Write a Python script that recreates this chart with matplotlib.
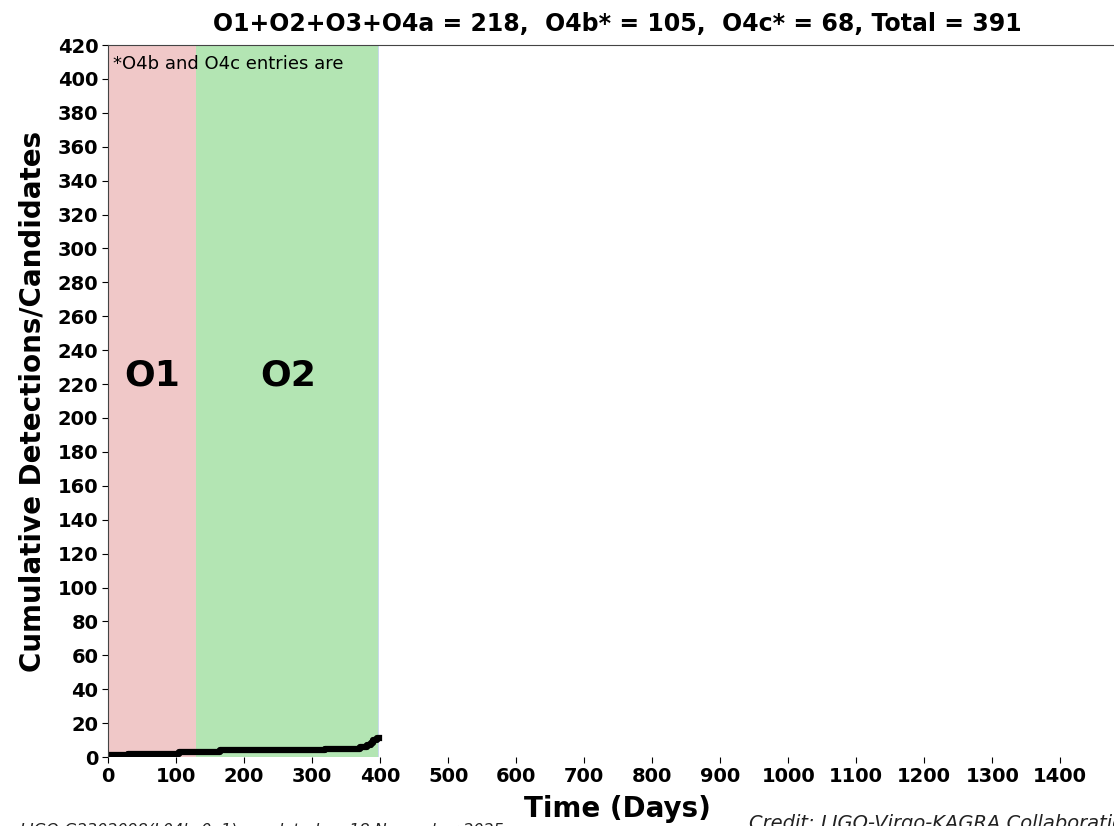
import numpy as np
import matplotlib
matplotlib.use("Agg")
import matplotlib.pyplot as plt

# Observing runs (days since start of run sequence)
run_names = ["O1", "O2"]
run_starts = [0, 129]
run_ends = [129, 397]
run_colors = ["#f0c8c8", "#b3e5b3"]
o3_start = 397
o3_shown_end = 399

# Detection times (days) and cumulative counts
event_days = [0, 2, 30, 105, 164, 319, 370, 381, 386, 389, 390, 395, 399]
event_counts = [0, 1, 2, 3, 4, 5, 6, 7, 8, 9, 10, 11, 11]

title = "O1+O2+O3+O4a = 218,  O4b* = 105,  O4c* = 68, Total = 391"
xticks = [0, 100, 200, 300, 400, 500, 600, 700, 800, 900, 1000, 1100, 1200, 1300, 1400]
yticks = list(range(0, 421, 20))

fig = plt.figure(figsize=(11.14, 8.26), dpi=100)
ax = fig.add_axes([0.097, 0.0835, 0.914, 0.862])

for name, s, e, c in zip(run_names, run_starts, run_ends, run_colors):
    ax.axvspan(s, e, color=c, lw=0)
ax.axvspan(o3_start, o3_shown_end, color="#c8d8ec", lw=0)

ax.text(65, 225, "O1", fontsize=26, fontweight="bold", ha="center", va="center")
ax.text(265, 225, "O2", fontsize=26, fontweight="bold", ha="center", va="center")
ax.text(7, 414, "*O4b and O4c entries are", fontsize=13, ha="left", va="top")

ax.step(event_days, event_counts, where="post", color="black", lw=4.5)

ax.set_xlim(0, 1497)
ax.set_ylim(0, 420)
ax.set_xticks(xticks)
ax.set_yticks(yticks)
for lbl in ax.get_xticklabels() + ax.get_yticklabels():
    lbl.set_fontweight("bold")
    lbl.set_fontsize(14)
ax.tick_params(length=4, pad=3)

ax.spines["right"].set_visible(False)
ax.spines["bottom"].set_visible(False)
ax.spines["left"].set_color("#444444")
ax.spines["top"].set_color("#444444")

ax.set_title(title, fontsize=17, fontweight="bold", pad=10)
ax.set_ylabel("Cumulative Detections/Candidates", fontsize=20, fontweight="bold", labelpad=8)
ax.set_xlabel("Time (Days)", fontsize=20, fontweight="bold", labelpad=7)

fig.text(0.018, -0.016, "LIGO-G2302098(L04b_0a1),  updated on 18 November 2025",
         fontsize=11.5, style="italic", color="#222222", ha="left", va="bottom")
fig.text(0.672, -0.008, "Credit: LIGO-Virgo-KAGRA Collaboration",
         fontsize=14, style="italic", color="#222222", ha="left", va="bottom")

fig.savefig("out.png", dpi=100)
